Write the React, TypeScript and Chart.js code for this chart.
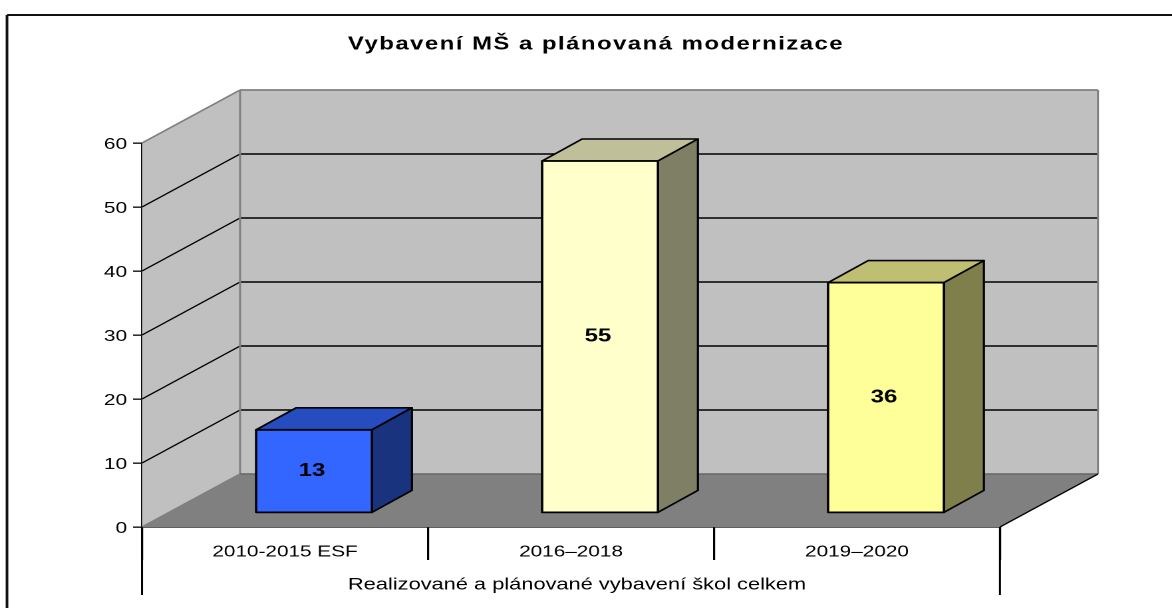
import React, { useEffect, useRef } from "react";
import { Chart, registerables } from "chart.js";

Chart.register(...registerables);

const categories = ["2010-2015 ESF", "2016–2018", "2019–2020"];
const values = [13, 55, 36];
const chartTitle = "Vybavení MŠ a plánovaná modernizace";
const groupLabel = "Realizované a plánované vybavení škol celkem";
const frontColors = ["#3366ff", "#ffffcc", "#ffff99"];
const topColors = ["#264dbf", "#bfbf99", "#bfbf73"];
const sideColors = ["#1a337f", "#7f7f66", "#7f7f4c"];

// The reference is a horizontally stretched picture: draw narrow, show wide.
const VIEW_W = 1172;
const VIEW_H = 608;
const SX = 1.33;
const X = (px: number) => px / SX;
const FONT = "'Liberation Sans', Arial, sans-serif";

const DEPTH_X = X(98);
const DEPTH_Y = 53;
const BAR_SHIFT_X = X(29);
const BAR_SHIFT_Y = -14;
const BAR_DX = X(40);
const BAR_DY = 22;

function poly(ctx: CanvasRenderingContext2D, pts: number[][], fill: string | null, stroke: string | null, lw = 1) {
  ctx.beginPath();
  pts.forEach(([a, b], i) => (i ? ctx.lineTo(a, b) : ctx.moveTo(a, b)));
  ctx.closePath();
  if (fill) {
    ctx.fillStyle = fill;
    ctx.fill();
  }
  if (stroke) {
    ctx.strokeStyle = stroke;
    ctx.lineWidth = lw;
    ctx.lineJoin = "round";
    ctx.stroke();
  }
}

function line(ctx: CanvasRenderingContext2D, x1: number, y1: number, x2: number, y2: number, color: string, lw: number) {
  ctx.beginPath();
  ctx.moveTo(x1, y1);
  ctx.lineTo(x2, y2);
  ctx.strokeStyle = color;
  ctx.lineWidth = lw;
  ctx.stroke();
}

const box3d = {
  id: "box3d",
  beforeDraw(chart: any) {
    const { ctx, width, height } = chart;
    // title letter spacing and axis-title nudge, as in the reference
    const tb = chart.titleBlock;
    if (tb && !tb.__wrapped) {
      const orig = tb.draw;
      tb.draw = function (...args: any[]) {
        ctx.save();
        ctx.letterSpacing = "1.1px";
        orig.apply(this, args);
        ctx.restore();
      };
      tb.__wrapped = true;
    }
    const sx = chart.scales.x;
    if (sx && !sx.__wrapped) {
      const orig = sx.drawTitle;
      sx.drawTitle = function (...args: any[]) {
        ctx.save();
        ctx.translate(X(6), 0);
        orig.apply(this, args);
        ctx.restore();
      };
      sx.__wrapped = true;
    }
    ctx.save();
    ctx.fillStyle = "#ffffff";
    ctx.fillRect(0, 0, width, height);
    line(ctx, X(7), 15, width, 15, "#111111", 2);
    line(ctx, X(7), 15, X(7), height, "#111111", 2);
    ctx.restore();
  },
  beforeDatasetsDraw(chart: any) {
    const { ctx, chartArea: a, scales } = chart;
    const y = scales.y;
    const y0 = y.getPixelForValue(0);
    const yMax = y.getPixelForValue(60);
    ctx.save();
    // side wall, back wall, floor
    poly(ctx, [[a.left, yMax], [a.left + DEPTH_X, yMax - DEPTH_Y], [a.left + DEPTH_X, y0 - DEPTH_Y], [a.left, y0]], "#c0c0c0", null);
    poly(ctx, [[a.left + DEPTH_X, yMax - DEPTH_Y], [a.right + DEPTH_X, yMax - DEPTH_Y], [a.right + DEPTH_X, y0 - DEPTH_Y], [a.left + DEPTH_X, y0 - DEPTH_Y]], "#c0c0c0", null);
    poly(ctx, [[a.left, y0], [a.left + DEPTH_X, y0 - DEPTH_Y], [a.right + DEPTH_X, y0 - DEPTH_Y], [a.right, y0]], "#808080", null);
    // gridlines
    y.ticks.forEach((t: any) => {
      if (t.value === 0 || t.value === 60) return;
      const p = y.getPixelForValue(t.value);
      line(ctx, a.left, p, a.left + DEPTH_X, p - DEPTH_Y, "#000000", 1.2);
      line(ctx, a.left + DEPTH_X, p - DEPTH_Y, a.right + DEPTH_X, p - DEPTH_Y, "#000000", 1.5);
    });
    // wall edges
    line(ctx, a.left, yMax, a.left + DEPTH_X, yMax - DEPTH_Y, "#808080", 1.5);
    line(ctx, a.left + DEPTH_X, yMax - DEPTH_Y, a.right + DEPTH_X, yMax - DEPTH_Y, "#808080", 1.8);
    line(ctx, a.left + DEPTH_X, yMax - DEPTH_Y, a.left + DEPTH_X, y0 - DEPTH_Y, "#808080", 1.5);
    line(ctx, a.right + DEPTH_X, yMax - DEPTH_Y, a.right + DEPTH_X, y0 - DEPTH_Y, "#808080", 1.5);
    line(ctx, a.left + DEPTH_X, y0 - DEPTH_Y, a.right + DEPTH_X, y0 - DEPTH_Y, "#666666", 1.5);
    line(ctx, a.left, y0, a.left + DEPTH_X, y0 - DEPTH_Y, "#808080", 1.5);
    line(ctx, a.right, y0, a.right + DEPTH_X, y0 - DEPTH_Y, "#000000", 1.3);
    // drop lines for the two-level category axis
    line(ctx, a.left, y0, a.left, y0 + 68, "#000000", 1.5);
    line(ctx, a.right, y0, a.right, y0 + 68, "#000000", 1.5);
    ctx.restore();

    // bars stand in the middle of the floor depth
    ctx.save();
    ctx.translate(BAR_SHIFT_X, BAR_SHIFT_Y);
    const meta = chart.getDatasetMeta(0);
    meta.data.forEach((bar: any, i: number) => {
      const l = bar.x - bar.width / 2;
      const r = bar.x + bar.width / 2;
      poly(ctx, [[l, bar.y], [l + BAR_DX, bar.y - BAR_DY], [r + BAR_DX, bar.y - BAR_DY], [r, bar.y]], topColors[i], "#000000", 1.6);
      poly(ctx, [[r, bar.y], [r + BAR_DX, bar.y - BAR_DY], [r + BAR_DX, bar.base - BAR_DY], [r, bar.base]], sideColors[i], "#000000", 1.6);
    });
  },
  afterDatasetsDraw(chart: any) {
    const { ctx } = chart;
    // still translated by beforeDatasetsDraw
    const meta = chart.getDatasetMeta(0);
    meta.data.forEach((bar: any, i: number) => {
      const l = bar.x - bar.width / 2;
      const r = bar.x + bar.width / 2;
      poly(ctx, [[l, bar.y], [r, bar.y], [r, bar.base], [l, bar.base]], null, "#000000", 1.8);
    });
    ctx.fillStyle = "#000000";
    ctx.font = `bold 18px ${FONT}`;
    ctx.textAlign = "center";
    ctx.textBaseline = "middle";
    meta.data.forEach((bar: any, i: number) => {
      ctx.fillText(String(values[i]), bar.x - X(2), (bar.y + bar.base) / 2);
    });
    ctx.restore();
  },
};

export default function App() {
  const ref = useRef<HTMLCanvasElement>(null);
  useEffect(() => {
    if (!ref.current) return;
    const chart = new Chart(ref.current, {
      type: "bar",
      data: {
        labels: categories,
        datasets: [
          {
            data: values,
            backgroundColor: frontColors,
            borderWidth: 0,
            barPercentage: 1,
            categoryPercentage: 0.405,
          },
        ],
      },
      plugins: [box3d],
      options: {
        animation: false,
        responsive: false,
        devicePixelRatio: 2,
        layout: { padding: { left: X(20), right: 0, top: 0, bottom: 0 } },
        plugins: {
          legend: { display: false },
          tooltip: { enabled: false },
          title: {
            display: true,
            text: chartTitle,
            color: "#000000",
            font: { family: FONT, size: 18, weight: "bold" },
            padding: { top: 33.5, bottom: 87.9 },
          },
        },
        scales: {
          x: {
            offset: true,
            border: { color: "#000000", width: 1.6 },
            grid: { drawOnChartArea: false, color: "#000000", tickLength: 33, lineWidth: 1.6 },
            ticks: { color: "#000000", padding: -17, maxRotation: 0, font: { family: FONT, size: 15.6 } },
            title: {
              display: true,
              text: groupLabel,
              color: "#000000",
              font: { family: FONT, size: 16.4 },
              padding: { top: 0, bottom: 13 },
            },
            afterFit: (s: any) => {
              s.height = 81;
            },
          },
          y: {
            min: 0,
            max: 60,
            border: { color: "#000000", width: 1.5 },
            grid: { drawOnChartArea: false, color: "#000000", tickLength: X(9), lineWidth: 1.3 },
            ticks: { stepSize: 10, color: "#000000", padding: X(6), labelOffset: 1.5, font: { family: FONT, size: 15.6 } },
            afterFit: (s: any) => {
              s.width = X(122);
            },
          },
          spacer: {
            position: "right",
            grid: { display: false },
            border: { display: false },
            ticks: { display: false },
            afterFit: (s: any) => {
              s.width = X(172);
            },
          },
        },
      } as any,
    });
    return () => chart.destroy();
  }, []);
  return (
    <div style={{ position: "fixed", left: 0, top: 0, width: VIEW_W, height: VIEW_H, overflow: "hidden" }}>
      <canvas ref={ref} width={Math.round(VIEW_W / SX)} height={VIEW_H} style={{ width: VIEW_W, height: VIEW_H }} />
    </div>
  );
}
